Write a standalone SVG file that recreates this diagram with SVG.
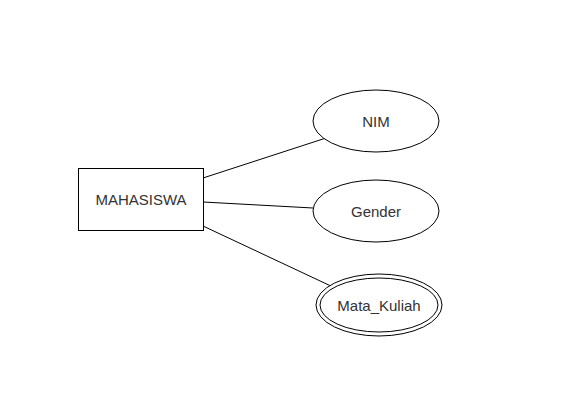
<svg xmlns="http://www.w3.org/2000/svg" width="563" height="416" viewBox="0 0 563 416">
<style>
.s{fill:#fff;stroke:#000;stroke-width:1}
.c{fill:none;stroke:#000;stroke-width:1}
.t{font-family:"Liberation Sans",Arial,sans-serif;font-size:15px;fill:#333;text-anchor:middle;dominant-baseline:central}
</style>
<rect width="563" height="416" fill="#fff"/>
<g id="connectors">
<line class="c" x1="203" y1="178" x2="326" y2="138"/>
<line class="c" x1="203" y1="202" x2="313" y2="208"/>
<line class="c" x1="203" y1="226" x2="333" y2="287"/>
</g>
<g id="mahasiswa">
<rect class="s" x="78.5" y="168.5" width="125" height="62"/>
<text class="t" x="141" y="199">MAHASISWA</text>
</g>
<g id="nim">
<ellipse class="s" cx="376" cy="121" rx="63" ry="31"/>
<text class="t" x="376" y="121">NIM</text>
</g>
<g id="gender">
<ellipse class="s" cx="376" cy="211" rx="63" ry="31"/>
<text class="t" x="376" y="211">Gender</text>
</g>
<g id="mata_kuliah">
<ellipse class="s" cx="379" cy="305" rx="63" ry="31"/>
<ellipse class="s" cx="379" cy="305" rx="59" ry="27"/>
<text class="t" x="379" y="305">Mata_Kuliah</text>
</g>
</svg>
